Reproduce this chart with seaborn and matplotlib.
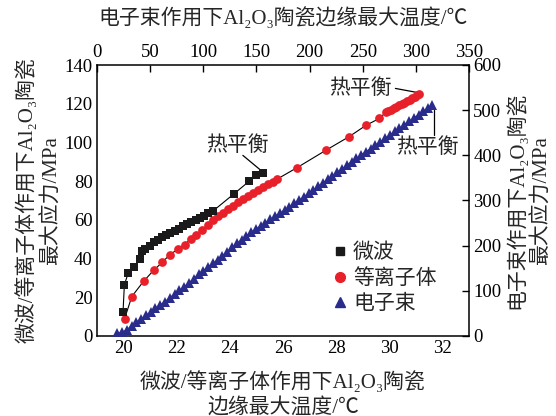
import matplotlib
matplotlib.use("Agg")
import matplotlib.pyplot as plt
import seaborn as sns
from matplotlib.lines import Line2D

sns.set_theme(style="white")
plt.rcParams['font.family'] = ['Liberation Serif', 'Noto Sans CJK SC', 'DejaVu Sans']
plt.rcParams['axes.unicode_minus'] = False

# ---- data ----
mw_x = [19.98, 20.03, 20.18, 20.4, 20.6, 20.7, 20.82, 20.98, 21.13, 21.3, 21.46, 21.61,
        21.76, 21.92, 22.09, 22.24, 22.4, 22.55, 22.72, 22.87, 23.02, 23.18, 23.35,
        24.16, 24.73, 24.98, 25.23]
mw_y = [12.6, 26.4, 32.8, 35.9, 39.9, 43.7, 45.1, 46.7, 48.4, 49.8, 51.2, 52.4,
        53.2, 54.4, 55.5, 56.7, 57.9, 58.8, 59.8, 61.0, 62.2, 63.3, 64.4,
        73.5, 80.0, 83.1, 84.4]

pl_x = [20.04, 20.31, 20.75, 21.13, 21.45, 21.74, 22.05, 22.3, 22.52, 22.72, 22.97,
        23.18, 23.37, 23.56, 23.75, 23.94, 24.12, 24.31, 24.5, 24.69, 24.88, 25.07,
        25.26, 25.45, 25.63, 25.76, 26.52, 27.62, 28.49, 29.12, 29.63, 29.87, 29.97,
        30.07, 30.17, 30.27, 30.37, 30.47, 30.57, 30.67, 30.77, 30.87, 30.97, 31.05, 31.12]
pl_y = [9.0, 20.4, 28.2, 33.9, 38.0, 42.0, 44.9, 47.2, 50.1, 52.4, 55.0,
        57.6, 59.8, 61.9, 63.6, 65.7, 67.4, 69.1, 70.9, 72.2, 74.0, 75.3,
        76.9, 78.3, 79.7, 80.9, 86.9, 96.0, 103.0, 108.8, 112.4, 115.6, 116.3,
        117.0, 117.8, 118.5, 119.2, 119.9, 120.6, 121.3, 122.0, 122.8, 123.6, 124.3, 125.0]

eb_x = [19, 23.5, 28, 32.5, 37, 41.5, 46, 50.5, 55, 59.5, 64, 68.5, 73, 77.5, 82, 86.5,
        91, 95.5, 100, 104.5, 109, 113.5, 118, 122.5, 127, 131.5, 136, 140.5, 145, 149.5,
        154, 158.5, 163, 167.5, 172, 176.5, 181, 185.5, 190, 194.5, 199, 203.5, 208, 212.5,
        217, 221.5, 226, 230.5, 235, 239.5, 244, 248.5, 253, 257.5, 262, 266.5, 271, 275.5,
        280, 284.5, 289, 293.5, 298, 302.5, 307, 311.5, 315]
eb_y = [6, 8, 14, 22, 31, 38, 46, 53, 62, 69, 76, 85, 93, 102, 109, 118,
        127, 137, 145, 153, 161, 169, 178, 187, 196, 205, 213, 222, 230, 237,
        244, 251, 258, 265, 272, 279, 286, 294, 301, 308, 316, 323, 331, 339,
        347, 355, 363, 370, 378, 386, 393, 401, 408, 415, 423, 430, 438, 445,
        453, 460, 468, 475, 483, 490, 498, 505, 511]

labels = ['微波', '等离子体', '电子束']
colors = ['#1a1a1a', '#e8202a', '#2a2c8c']

bottom_ticks = [20, 22, 24, 26, 28, 30, 32]
left_ticks = [0, 20, 40, 60, 80, 100, 120, 140]
top_ticks = [0, 50, 100, 150, 200, 250, 300, 350]
right_ticks = [0, 100, 200, 300, 400, 500, 600]

FS_TICK = 13.5
FS_LAB = 15

fig = plt.figure(figsize=(5.56, 4.16), dpi=100)
fig.patch.set_facecolor('white')
pos = [97/556, 80/416, 372/556, 271/416]
ax = fig.add_axes(pos)
ax2 = fig.add_axes(pos, frameon=False)
ax2.patch.set_visible(False)

# electron beam on top/right axes
sns.lineplot(x=eb_x, y=eb_y, ax=ax2, sort=False, estimator=None, color=colors[2],
             lw=0.8, marker='^', markersize=6.5, markeredgewidth=0, zorder=2)
# microwave & plasma on bottom/left
sns.lineplot(x=pl_x, y=pl_y, ax=ax, sort=False, estimator=None, color='black',
             lw=0.8, marker='o', markersize=6.3, markerfacecolor=colors[1],
             markeredgewidth=0, zorder=3)
sns.lineplot(x=mw_x, y=mw_y, ax=ax, sort=False, estimator=None, color='black',
             lw=0.8, marker='s', markersize=5.5, markerfacecolor=colors[0],
             markeredgewidth=0, zorder=4)

ax.set_xlim(19, 33)
ax.set_ylim(0, 140)
ax.set_xticks(bottom_ticks)
ax.set_yticks(left_ticks)
ax2.set_xlim(0, 350)
ax2.set_ylim(0, 600)
ax2.set_xticks(top_ticks)
ax2.set_yticks(right_ticks)
ax2.xaxis.tick_top()
ax2.yaxis.tick_right()
ax2.xaxis.set_label_position('top')
ax2.yaxis.set_label_position('right')

for a in (ax, ax2):
    a.tick_params(direction='in', length=5, width=1.0, labelsize=FS_TICK, colors='black',
                  pad=3)
    a.grid(False)
for s in ax.spines.values():
    s.set_color('black')
    s.set_linewidth(1.1)
    s.set_visible(True)

ax.set_xlabel('微波/等离子体作用下Al₂O₃陶瓷\n边缘最大温度/℃', fontsize=FS_LAB,
              linespacing=1.3, labelpad=10)
ax.set_ylabel('微波/等离子体作用下Al₂O₃陶瓷\n最大应力/MPa', fontsize=FS_LAB,
              linespacing=1.3, labelpad=2)
ax2.set_xlabel('电子束作用下Al₂O₃陶瓷边缘最大温度/℃', fontsize=FS_LAB, labelpad=14)
ax2.set_ylabel('电子束作用下Al₂O₃陶瓷\n最大应力/MPa', fontsize=FS_LAB,
               linespacing=1.3, labelpad=3)

# annotations
ax.text(24.3, 98, '热平衡', fontsize=FS_LAB, ha='center', va='center')
ax.plot([24.49, 25.13], [93.3, 86], color='black', lw=0.9)
ax.text(28.9, 127.5, '热平衡', fontsize=FS_LAB, ha='center', va='center')
ax.plot([30.23, 31.05], [127.9, 125.8], color='black', lw=0.9)
ax.text(31.42, 97.3, '热平衡', fontsize=FS_LAB, ha='center', va='center')
ax.plot([31.7, 31.7], [117, 104], color='black', lw=0.9)

handles = [Line2D([], [], ls='none', marker='s', color=colors[0], markersize=6),
           Line2D([], [], ls='none', marker='o', color=colors[1], markersize=7),
           Line2D([], [], ls='none', marker='^', color=colors[2], markersize=7)]
fig.legend(handles, labels, loc='center left', bbox_to_anchor=(330/556, 1 - 279/416),
           frameon=False, fontsize=FS_LAB, handletextpad=0.1, handlelength=1.0,
           labelspacing=0.28, borderaxespad=0, borderpad=0)

fig.savefig('out.png', dpi=100, facecolor='white')
